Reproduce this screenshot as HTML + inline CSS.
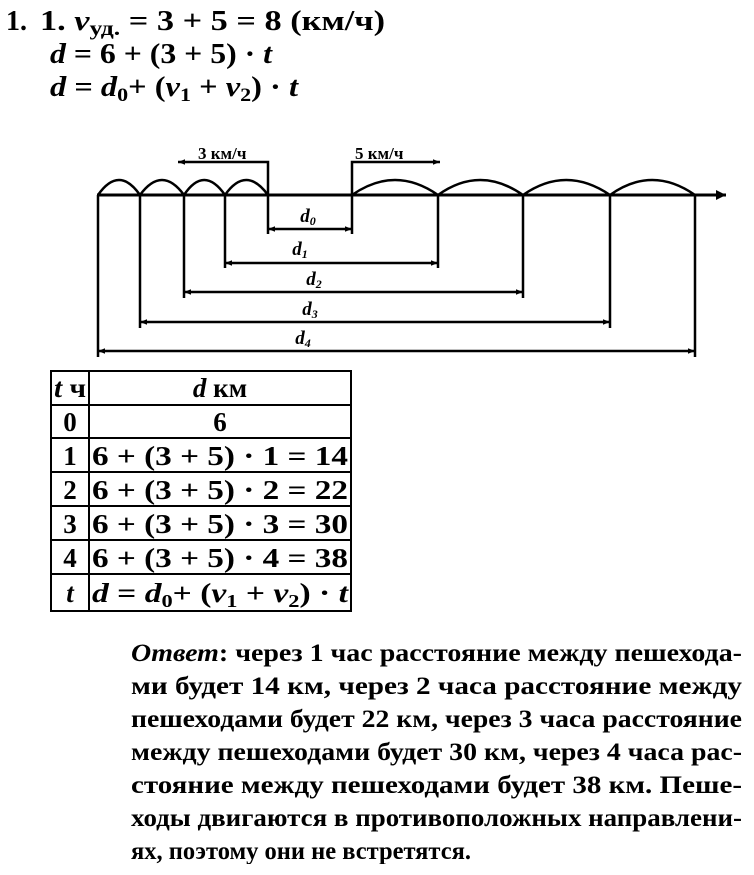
<!DOCTYPE html>
<html><head><meta charset="utf-8"><style>
html,body{margin:0;padding:0;background:#fff;width:754px;height:875px;overflow:hidden}
svg{display:block}
text{font-family:"Liberation Serif",serif;fill:#000}
</style></head><body>
<svg width="754" height="875" viewBox="0 0 754 875" xmlns="http://www.w3.org/2000/svg">
<defs>
<marker id="a" viewBox="0 0 10 10" refX="10" refY="5" markerWidth="7" markerHeight="7" orient="auto-start-reverse" markerUnits="userSpaceOnUse"><path d="M0,1 L10,5 L0,9 z" fill="#000"/></marker>
<marker id="b" viewBox="0 0 10 10" refX="10" refY="5" markerWidth="12" markerHeight="10" orient="auto-start-reverse" markerUnits="userSpaceOnUse"><path d="M0,0 L10,5 L0,10 z" fill="#000"/></marker>
</defs>
<g font-weight="bold" font-size="28">
<text x="6" y="30">1.</text>
<text x="40" y="30" textLength="345" lengthAdjust="spacingAndGlyphs">1. <tspan font-style="italic">v</tspan><tspan font-size="21" dy="5">уд.</tspan><tspan dy="-5"> = 3 + 5 = 8 (км/ч)</tspan></text>
<text x="50" y="63" textLength="222" lengthAdjust="spacingAndGlyphs"><tspan font-style="italic">d</tspan> = 6 + (3 + 5) · <tspan font-style="italic">t</tspan></text>
<text x="50" y="96" textLength="248" lengthAdjust="spacingAndGlyphs"><tspan font-style="italic">d</tspan> = <tspan font-style="italic">d</tspan><tspan font-size="19" dy="5">0</tspan><tspan dy="-5">+ (</tspan><tspan font-style="italic">v</tspan><tspan font-size="19" dy="5">1</tspan><tspan dy="-5"> + </tspan><tspan font-style="italic">v</tspan><tspan font-size="19" dy="5">2</tspan><tspan dy="-5">) · </tspan><tspan font-style="italic">t</tspan></text>
</g>
<g stroke="#000" fill="none" stroke-width="2.5">
<line x1="97" y1="195" x2="726" y2="195" stroke-width="3" marker-end="url(#b)"/>
<path d="M98,195 Q119,165 140,195 Q162,165 184,195 Q204,165 225,195 Q246,165 268,195"/>
<path d="M352,195 Q395,165 438,195 Q480,165 523,195 Q566,165 610,195 Q652,165 695,195"/>
<polyline points="268,195 268,162 178,162" marker-end="url(#a)"/>
<polyline points="352,195 352,162 440,162" marker-end="url(#a)"/>
<line x1="268" y1="195" x2="268" y2="234"/>
<line x1="352" y1="195" x2="352" y2="234"/>
<line x1="225" y1="195" x2="225" y2="268"/>
<line x1="438" y1="195" x2="438" y2="268"/>
<line x1="184" y1="195" x2="184" y2="298"/>
<line x1="523" y1="195" x2="523" y2="298"/>
<line x1="140" y1="195" x2="140" y2="328"/>
<line x1="610" y1="195" x2="610" y2="328"/>
<line x1="98" y1="195" x2="98" y2="357"/>
<line x1="695" y1="195" x2="695" y2="357"/>
<line x1="268" y1="229" x2="352" y2="229" marker-start="url(#a)" marker-end="url(#a)"/>
<line x1="225" y1="263" x2="438" y2="263" marker-start="url(#a)" marker-end="url(#a)"/>
<line x1="184" y1="292" x2="523" y2="292" marker-start="url(#a)" marker-end="url(#a)"/>
<line x1="140" y1="322" x2="610" y2="322" marker-start="url(#a)" marker-end="url(#a)"/>
<line x1="98" y1="351" x2="695" y2="351" marker-start="url(#a)" marker-end="url(#a)"/>
</g>
<g font-weight="bold" font-size="17">
<text x="198" y="159">3 км/ч</text>
<text x="355" y="159">5 км/ч</text>
</g>
<g font-weight="bold" font-style="italic" font-size="19" text-anchor="middle">
<text x="308" y="222">d<tspan font-size="12" dy="3">0</tspan></text>
<text x="300" y="255">d<tspan font-size="12" dy="3">1</tspan></text>
<text x="314" y="285">d<tspan font-size="12" dy="3">2</tspan></text>
<text x="310" y="315">d<tspan font-size="12" dy="3">3</tspan></text>
<text x="303" y="344">d<tspan font-size="12" dy="3">4</tspan></text>
</g>
<g stroke="#000" stroke-width="2" fill="none">
<rect x="51" y="371" width="300" height="240"/>
<line x1="89" y1="371" x2="89" y2="611"/>
<line x1="51" y1="405" x2="351" y2="405"/>
<line x1="51" y1="438" x2="351" y2="438"/>
<line x1="51" y1="472" x2="351" y2="472"/>
<line x1="51" y1="506" x2="351" y2="506"/>
<line x1="51" y1="540" x2="351" y2="540"/>
<line x1="51" y1="574" x2="351" y2="574"/>
</g>
<g font-weight="bold" font-size="27" text-anchor="middle">
<text x="70" y="397" textLength="32" lengthAdjust="spacingAndGlyphs"><tspan font-style="italic">t</tspan> ч</text>
<text x="220" y="397"><tspan font-style="italic">d</tspan> км</text>
<text x="70" y="431">0</text><text x="220" y="431">6</text>
<text x="70" y="465">1</text><text x="220" y="465" textLength="256" lengthAdjust="spacingAndGlyphs">6 + (3 + 5) · 1 = 14</text>
<text x="70" y="499">2</text><text x="220" y="499" textLength="256" lengthAdjust="spacingAndGlyphs">6 + (3 + 5) · 2 = 22</text>
<text x="70" y="533">3</text><text x="220" y="533" textLength="256" lengthAdjust="spacingAndGlyphs">6 + (3 + 5) · 3 = 30</text>
<text x="70" y="567">4</text><text x="220" y="567" textLength="256" lengthAdjust="spacingAndGlyphs">6 + (3 + 5) · 4 = 38</text>
<text x="70" y="602" font-style="italic">t</text>
<text x="220" y="602" textLength="256" lengthAdjust="spacingAndGlyphs"><tspan font-style="italic">d</tspan> = <tspan font-style="italic">d</tspan><tspan font-size="18" dy="5">0</tspan><tspan dy="-5">+ (</tspan><tspan font-style="italic">v</tspan><tspan font-size="18" dy="5">1</tspan><tspan dy="-5"> + </tspan><tspan font-style="italic">v</tspan><tspan font-size="18" dy="5">2</tspan><tspan dy="-5">) · </tspan><tspan font-style="italic">t</tspan></text>
</g>
<g font-weight="bold" font-size="25">
<text x="131" y="661" textLength="611" lengthAdjust="spacingAndGlyphs"><tspan font-style="italic">Ответ</tspan>: через 1 час расстояние между пешехода-</text>
<text x="131" y="694" textLength="611" lengthAdjust="spacingAndGlyphs">ми будет 14 км, через 2 часа расстояние между</text>
<text x="131" y="727" textLength="611" lengthAdjust="spacingAndGlyphs">пешеходами будет 22 км, через 3 часа расстояние</text>
<text x="131" y="760" textLength="611" lengthAdjust="spacingAndGlyphs">между пешеходами будет 30 км, через 4 часа рас-</text>
<text x="131" y="793" textLength="611" lengthAdjust="spacingAndGlyphs">стояние между пешеходами будет 38 км. Пеше-</text>
<text x="131" y="826" textLength="611" lengthAdjust="spacingAndGlyphs">ходы двигаются в противоположных направлени-</text>
<text x="131" y="859" textLength="340" lengthAdjust="spacingAndGlyphs">ях, поэтому они не встретятся.</text>
</g>
<rect x="0" y="864" width="754" height="11" fill="#fff"/>
</svg>
</body></html>
